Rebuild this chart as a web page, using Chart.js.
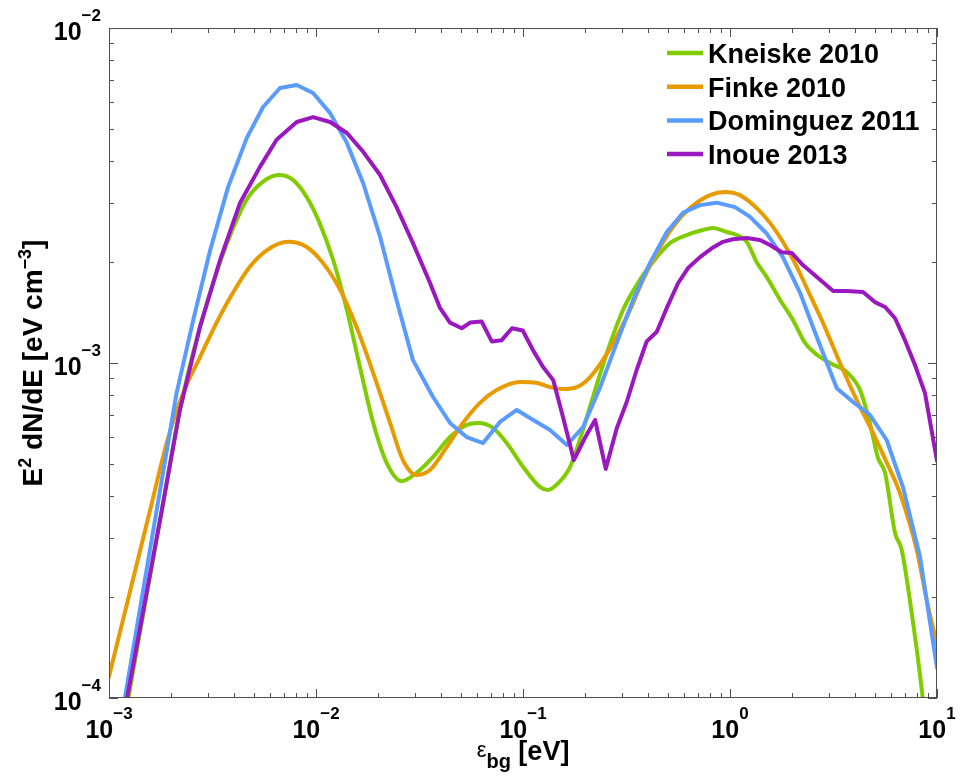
<!DOCTYPE html>
<html>
<head>
<meta charset="utf-8">
<title>EBL photon density</title>
<script src="https://cdn.jsdelivr.net/npm/chart.js@4"></script>
<style>
  html, body { margin: 0; padding: 0; background: #fff; }
  #wrap { width: 963px; height: 776px; }
</style>
</head>
<body>
<div id="wrap"><canvas id="ebl" width="963" height="776"></canvas></div>
<script>
// energies in eV, E^2 dN/dE in eV cm^-3
const kneiskeEnergy = [1.24e-3, 1.80e-3, 2.20e-3, 2.75e-3, 3.44e-3, 3.97e-3, 4.63e-3, 5.55e-3, 6.62e-3, 7.74e-3, 9.01e-3, 1.04e-2, 1.21e-2, 1.41e-2, 1.63e-2, 1.89e-2, 2.20e-2, 2.60e-2, 3.06e-2, 3.67e-2, 4.44e-2, 5.34e-2, 6.07e-2, 7.16e-2, 8.34e-2, 0.100, 0.121, 0.132, 0.148, 0.169, 0.188, 0.218, 0.254, 0.304, 0.367, 0.443, 0.513, 0.618, 0.730, 0.828, 0.964, 1.077, 1.204, 1.346, 1.50, 1.75, 2.02, 2.30, 2.62, 3.04, 3.66, 4.25, 4.74, 5.19, 5.61, 6.27, 6.75, 7.55, 8.44, 8.65];
const kneiskeFlux = [1.0e-4, 3.64e-4, 7.24e-4, 1.28e-3, 2.00e-3, 2.52e-3, 3.08e-3, 3.48e-3, 3.64e-3, 3.52e-3, 3.13e-3, 2.62e-3, 2.03e-3, 1.44e-3, 9.73e-4, 6.62e-4, 5.02e-4, 4.44e-4, 4.70e-4, 5.24e-4, 6.01e-4, 6.53e-4, 6.62e-4, 6.40e-4, 5.77e-4, 4.90e-4, 4.26e-4, 4.18e-4, 4.38e-4, 4.90e-4, 5.89e-4, 7.93e-4, 1.07e-3, 1.44e-3, 1.77e-3, 2.07e-3, 2.28e-3, 2.41e-3, 2.49e-3, 2.53e-3, 2.46e-3, 2.41e-3, 2.30e-3, 2.00e-3, 1.81e-3, 1.54e-3, 1.34e-3, 1.15e-3, 1.06e-3, 1.00e-3, 9.40e-4, 8.30e-4, 6.62e-4, 5.20e-4, 4.70e-4, 3.11e-4, 2.77e-4, 1.79e-4, 1.06e-4, 0.92e-4];

const finkeEnergy = [1.0e-3, 1.58e-3, 1.90e-3, 2.28e-3, 2.75e-3, 3.31e-3, 3.97e-3, 4.80e-3, 5.78e-3, 7.33e-3, 9.01e-3, 1.08e-2, 1.31e-2, 1.57e-2, 1.89e-2, 2.28e-2, 2.63e-2, 3.06e-2, 3.56e-2, 4.28e-2, 5.13e-2, 6.19e-2, 7.46e-2, 9.68e-2, 0.117, 0.135, 0.156, 0.182, 0.211, 0.243, 0.284, 0.329, 0.380, 0.443, 0.531, 0.641, 0.800, 0.946, 1.117, 1.346, 1.56, 1.80, 2.10, 2.43, 2.81, 3.40, 4.09, 4.91, 5.93, 6.62, 7.98, 8.92, 10];
const finkeFlux = [1.16e-4, 3.64e-4, 5.77e-4, 8.13e-4, 1.04e-3, 1.32e-3, 1.62e-3, 1.94e-3, 2.17e-3, 2.30e-3, 2.22e-3, 1.99e-3, 1.65e-3, 1.28e-3, 9.33e-4, 6.62e-4, 5.13e-4, 4.63e-4, 4.80e-4, 5.61e-4, 6.62e-4, 7.60e-4, 8.30e-4, 8.77e-4, 8.71e-4, 8.47e-4, 8.36e-4, 8.47e-4, 9.08e-4, 1.02e-3, 1.20e-3, 1.44e-3, 1.77e-3, 2.13e-3, 2.55e-3, 2.90e-3, 3.17e-3, 3.24e-3, 3.17e-3, 2.90e-3, 2.62e-3, 2.30e-3, 1.94e-3, 1.60e-3, 1.32e-3, 1.00e-3, 7.76e-4, 6.18e-4, 4.80e-4, 4.09e-4, 2.77e-4, 1.96e-4, 1.44e-4];

const dominguezEnergy = [1.19e-3, 1.70e-3, 2.12e-3, 2.55e-3, 3.08e-3, 3.76e-3, 4.63e-3, 5.55e-3, 6.70e-3, 8.07e-3, 9.68e-3, 1.17e-2, 1.41e-2, 1.69e-2, 2.04e-2, 2.45e-2, 2.94e-2, 3.67e-2, 4.44e-2, 5.34e-2, 6.41e-2, 7.74e-2, 9.33e-2, 0.112, 0.135, 0.163, 0.195, 0.236, 0.284, 0.340, 0.411, 0.495, 0.593, 0.716, 0.863, 1.057, 1.250, 1.50, 1.80, 2.18, 2.62, 3.28, 3.93, 4.74, 5.71, 6.85, 8.28, 10];
const dominguezFlux = [0.99e-4, 3.64e-4, 8.13e-4, 1.34e-3, 2.17e-3, 3.35e-3, 4.70e-3, 5.81e-3, 6.62e-3, 6.76e-3, 6.40e-3, 5.57e-3, 4.54e-3, 3.44e-3, 2.38e-3, 1.54e-3, 1.02e-3, 7.93e-4, 6.62e-4, 6.01e-4, 5.77e-4, 6.67e-4, 7.24e-4, 6.76e-4, 6.31e-4, 5.69e-4, 6.44e-4, 8.47e-4, 1.15e-3, 1.54e-3, 1.99e-3, 2.46e-3, 2.81e-3, 2.96e-3, 3.01e-3, 2.92e-3, 2.73e-3, 2.44e-3, 2.07e-3, 1.62e-3, 1.20e-3, 8.41e-4, 7.65e-4, 7.00e-4, 5.89e-4, 4.26e-4, 2.64e-4, 1.23e-4];

const inoueEnergy = [1.22e-3, 1.80e-3, 2.20e-3, 2.75e-3, 3.44e-3, 4.30e-3, 5.36e-3, 6.45e-3, 8.07e-3, 9.68e-3, 1.17e-2, 1.41e-2, 1.69e-2, 2.04e-2, 2.45e-2, 2.94e-2, 3.56e-2, 3.97e-2, 4.44e-2, 5.06e-2, 5.55e-2, 6.31e-2, 7.06e-2, 7.89e-2, 8.85e-2, 9.97e-2, 0.112, 0.125, 0.140, 0.156, 0.176, 0.199, 0.223, 0.251, 0.284, 0.317, 0.354, 0.396, 0.443, 0.495, 0.561, 0.627, 0.716, 0.816, 0.925, 1.033, 1.204, 1.396, 1.56, 1.78, 1.99, 2.25, 2.62, 3.15, 3.66, 4.39, 5.01, 5.61, 6.27, 7.00, 7.83, 8.75, 10];
const inoueFlux = [0.99e-4, 3.64e-4, 7.24e-4, 1.28e-3, 2.03e-3, 3.01e-3, 3.85e-3, 4.64e-3, 5.24e-3, 5.42e-3, 5.24e-3, 4.86e-3, 4.27e-3, 3.64e-3, 2.92e-3, 2.28e-3, 1.73e-3, 1.46e-3, 1.32e-3, 1.27e-3, 1.32e-3, 1.33e-3, 1.16e-3, 1.17e-3, 1.27e-3, 1.25e-3, 1.09e-3, 9.73e-4, 8.89e-4, 6.90e-4, 5.13e-4, 5.97e-4, 6.76e-4, 4.83e-4, 6.40e-4, 7.65e-4, 9.53e-4, 1.16e-3, 1.24e-3, 1.46e-3, 1.73e-3, 1.92e-3, 2.07e-3, 2.20e-3, 2.30e-3, 2.34e-3, 2.36e-3, 2.33e-3, 2.25e-3, 2.14e-3, 2.13e-3, 1.96e-3, 1.81e-3, 1.64e-3, 1.64e-3, 1.63e-3, 1.52e-3, 1.47e-3, 1.36e-3, 1.17e-3, 9.86e-4, 8.13e-4, 5.1e-4];

const xDecades = [1e-3, 1e-2, 1e-1, 1, 10];
const xTickExponents = ["−3", "−2", "−1", "0", "1"];
const yDecades = [1e-4, 1e-3, 1e-2];
const yTickExponents = ["−4", "−3", "−2"];
const minorSteps = [2, 3, 4, 5, 6, 7, 8, 9];

const FONT = '"Liberation Sans", Arial, Helvetica, sans-serif';
const axisGray = "#4f4f4f";

function points(xs, ys) {
  return xs.map((x, i) => ({ x, y: ys[i] }));
}

function minorTicks(decades) {
  const out = [];
  decades.slice(0, -1).forEach((d) => minorSteps.forEach((m) => out.push(d * m)));
  return out;
}

function drawPower(ctx, exponent, x, baseY, align) {
  ctx.font = `bold 25px ${FONT}`;
  const baseW = ctx.measureText("10").width;
  ctx.font = `bold 17px ${FONT}`;
  const expW = ctx.measureText(exponent).width;
  const total = baseW + expW;
  const left = align === "center" ? x - total / 2 : x - total;
  ctx.font = `bold 25px ${FONT}`;
  ctx.fillText("10", left, baseY);
  ctx.font = `bold 17px ${FONT}`;
  ctx.fillText(exponent, left + baseW, baseY - 19);
}

function drawRun(ctx, parts, centerX, baseY) {
  const widths = parts.map((p) => {
    ctx.font = p.font;
    return ctx.measureText(p.text).width;
  });
  let cursor = centerX - widths.reduce((a, b) => a + b, 0) / 2;
  parts.forEach((p, i) => {
    ctx.font = p.font;
    ctx.fillText(p.text, cursor, baseY + (p.dy || 0));
    cursor += widths[i];
  });
}

const matlabAxes = {
  id: "matlabAxes",
  afterDatasetsDraw(chart) {
    const { ctx, chartArea: a, scales } = chart;
    const sx = scales.x;
    const sy = scales.y;
    ctx.save();
    ctx.strokeStyle = axisGray;
    ctx.lineWidth = 1;

    // inward ticks on all four sides
    const tick = (v, len, horizontal) => {
      ctx.beginPath();
      if (horizontal) {
        const px = Math.round(sx.getPixelForValue(v)) + 0.5;
        ctx.moveTo(px, a.bottom); ctx.lineTo(px, a.bottom - len);
        ctx.moveTo(px, a.top); ctx.lineTo(px, a.top + len);
      } else {
        const py = Math.round(sy.getPixelForValue(v)) + 0.5;
        ctx.moveTo(a.left, py); ctx.lineTo(a.left + len, py);
        ctx.moveTo(a.right, py); ctx.lineTo(a.right - len, py);
      }
      ctx.stroke();
    };
    xDecades.forEach((v) => tick(v, 9, true));
    minorTicks(xDecades).forEach((v) => tick(v, 5, true));
    yDecades.forEach((v) => tick(v, 9, false));
    minorTicks(yDecades).forEach((v) => tick(v, 5, false));

    ctx.strokeRect(a.left + 0.5, a.top + 0.5, a.right - a.left - 1, a.bottom - a.top - 1);

    ctx.fillStyle = "#000";
    ctx.textBaseline = "alphabetic";
    ctx.textAlign = "left";
    xDecades.forEach((v, i) => drawPower(ctx, xTickExponents[i], sx.getPixelForValue(v), a.bottom + 40, "center"));
    yDecades.forEach((v, i) => drawPower(ctx, yTickExponents[i], a.left - 8, sy.getPixelForValue(v) + 12, "right"));

    // x title: epsilon_bg [eV]
    drawRun(ctx, [
      { text: "ε", font: `22px ${FONT}` },
      { text: "bg", font: `bold 20px ${FONT}`, dy: 11 },
      { text: " [eV]", font: `bold 27px ${FONT}`, dy: 3 },
    ], (a.left + a.right) / 2, a.bottom + 59);

    // y title, rotated
    ctx.save();
    ctx.translate(42, (a.top + a.bottom) / 2);
    ctx.rotate(-Math.PI / 2);
    drawRun(ctx, [
      { text: "E", font: `bold 28px ${FONT}` },
      { text: "2", font: `bold 18px ${FONT}`, dy: -11 },
      { text: " dN/dE [eV cm", font: `bold 28px ${FONT}` },
      { text: "−3", font: `bold 18px ${FONT}`, dy: -11 },
      { text: "]", font: `bold 28px ${FONT}` },
    ], 0, 0);
    ctx.restore();

    // legend, top right inside the axes
    chart.data.datasets.forEach((ds, i) => {
      const rowY = a.top + 25 + i * 33.7;
      ctx.strokeStyle = ds.borderColor;
      ctx.lineWidth = 4.5;
      ctx.beginPath();
      ctx.moveTo(a.right - 270, rowY);
      ctx.lineTo(a.right - 234, rowY);
      ctx.stroke();
      ctx.fillStyle = "#000";
      ctx.font = `bold 27px ${FONT}`;
      ctx.fillText(ds.label, a.right - 229, rowY + 10);
    });
    ctx.restore();
  },
};

new Chart(document.getElementById("ebl"), {
  type: "line",
  data: {
    datasets: [
      { label: "Kneiske 2010", data: points(kneiskeEnergy, kneiskeFlux), borderColor: "#80cc00", cubicInterpolationMode: "monotone", order: 4 },
      { label: "Finke 2010", data: points(finkeEnergy, finkeFlux), borderColor: "#e89b00", cubicInterpolationMode: "monotone", order: 3 },
      { label: "Dominguez 2011", data: points(dominguezEnergy, dominguezFlux), borderColor: "#5a9bff", tension: 0, order: 2 },
      { label: "Inoue 2013", data: points(inoueEnergy, inoueFlux), borderColor: "#9b17bf", tension: 0, order: 1 },
    ],
  },
  options: {
    responsive: false,
    animation: false,
    layout: { padding: { left: 109, top: 28, right: 26, bottom: 78 } },
    datasets: { line: { borderWidth: 4, pointRadius: 0, fill: false, clip: 0, borderJoinStyle: "round", borderCapStyle: "round" } },
    scales: {
      x: { type: "logarithmic", min: 1e-3, max: 10, display: false },
      y: { type: "logarithmic", min: 1e-4, max: 1e-2, display: false },
    },
    plugins: { legend: { display: false }, tooltip: { enabled: false } },
  },
  plugins: [matlabAxes],
});
</script>
</body>
</html>
